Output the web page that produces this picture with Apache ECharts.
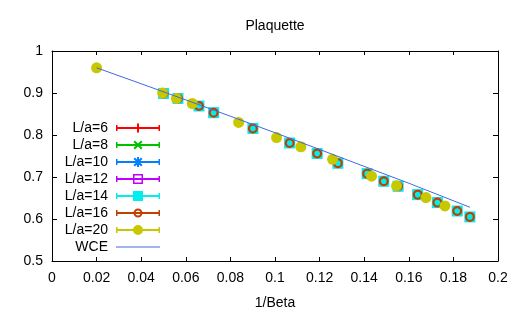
<!DOCTYPE html>
<html>
<head>
<meta charset="utf-8">
<script src="https://cdn.jsdelivr.net/npm/echarts@6/dist/echarts.min.js"></script>
<style>html,body{margin:0;padding:0;background:#fff}#c{width:525px;height:315px}</style>
</head>
<body>
<div id="c"></div>
<script>
// ---- data ----
const chartTitle = 'Plaquette';
const xName = '1/Beta';
const seriesNames = ['L/a=6', 'L/a=8', 'L/a=10', 'L/a=12', 'L/a=14', 'L/a=16', 'L/a=20', 'WCE'];
// L/a = 6 ... 16 (all overlap at the same points in the picture)
const xSmallL = [0.0500, 0.0565, 0.0659, 0.0725, 0.0901, 0.1066, 0.1189, 0.1282, 0.1413, 0.1488, 0.1552, 0.1640, 0.1728, 0.1817, 0.1874];
const ySmallL = [0.899, 0.887, 0.869, 0.853, 0.8155, 0.781, 0.756, 0.733, 0.708, 0.690, 0.678, 0.658, 0.639, 0.619, 0.605];
// L/a = 20
const xL20 = [0.0200, 0.0496, 0.0558, 0.0629, 0.0837, 0.1007, 0.1116, 0.1258, 0.1433, 0.1545, 0.1677, 0.1762];
const yL20 = [0.960, 0.900, 0.887, 0.875, 0.830, 0.794, 0.772, 0.742, 0.702, 0.679, 0.651, 0.631];
// WCE curve
const xWCE = [0.02, 0.04, 0.06, 0.08, 0.10, 0.12, 0.14, 0.16, 0.1874];
const yWCE = [0.960, 0.922, 0.8836, 0.8447, 0.8054, 0.7656, 0.7253, 0.6852, 0.628];
// axes
const xMin = 0, xMax = 0.2, xStep = 0.02;
const yMin = 0.5, yMax = 1, yStep = 0.1;

// ---- styling ----
const colors = ['#ff0000', '#00c000', '#0080ff', '#c000ff', '#00eeee', '#c04000', '#c8c800', '#4169e1'];
const FONT = '"Liberation Sans", Arial, sans-serif';

const mk = {
  plus: 'path://M4,0H6V10H4Z M0,4H10V6H0Z',
  cross: 'path://M0,1.4L1.4,0L5,3.6L8.6,0L10,1.4L6.4,5L10,8.6L8.6,10L5,6.4L1.4,10L0,8.6L3.6,5Z',
  star: 'path://M0,1.4L1.4,0L5,3.6L8.6,0L10,1.4L6.4,5L10,8.6L8.6,10L5,6.4L1.4,10L0,8.6L3.6,5Z M4,0H6V10H4Z M0,4H10V6H0Z',
  emptySquare: 'path://M0,0H10V10H0Z M1.5,1.5V8.5H8.5V1.5Z',
  square: 'path://M0,0H10V10H0Z',
  ring: 'path://M0,5A5,5 0 1,1 10,5A5,5 0 1,1 0,5Z M2.2,5A2.8,2.8 0 1,0 7.8,5A2.8,2.8 0 1,0 2.2,5Z',
  circle: 'circle'
};
const LINE = 'M0,5H44V7H0Z M0,3H1.5V9H0Z M42.5,3H44V9H42.5Z ';
const legIcons = [
  'path://' + LINE + 'M21,1.5H23V10.5H21Z',
  'path://' + LINE + 'M17.5,2.9L18.9,1.5L22,4.6L25.1,1.5L26.5,2.9L23.4,6L26.5,9.1L25.1,10.5L22,7.4L18.9,10.5L17.5,9.1L20.6,6Z',
  'path://' + LINE + 'M17.5,2.9L18.9,1.5L22,4.6L25.1,1.5L26.5,2.9L23.4,6L26.5,9.1L25.1,10.5L22,7.4L18.9,10.5L17.5,9.1L20.6,6Z M21,1H23V11H21Z',
  'path://' + LINE + 'M17,1H27V11H17Z M18.5,2.5V9.5H25.5V2.5Z',
  'path://' + LINE + 'M17,1H27V11H17Z',
  'path://' + LINE + 'M17.5,6A4.5,4.5 0 1,1 26.5,6A4.5,4.5 0 1,1 17.5,6Z M19.5,6A2.5,2.5 0 1,0 24.5,6A2.5,2.5 0 1,0 19.5,6Z',
  'path://' + LINE + 'M17,6A5,5 0 1,1 27,6A5,5 0 1,1 17,6Z',
  'path://M0,5.5H44V6.5H0Z'
];
const markers = [mk.plus, mk.cross, mk.star, mk.emptySquare, mk.square, mk.ring, mk.circle];
const markerSizes = [9, 9, 9, 10, 11, 10, 11];

const pairs = (xs, ys) => xs.map((x, i) => [x, ys[i]]);

const series = [];
for (let i = 0; i < 7; i++) {
  const isL20 = i === 6;
  series.push({
    name: seriesNames[i],
    type: 'scatter',
    xAxisIndex: 0, yAxisIndex: 0,
    data: isL20 ? pairs(xL20, yL20) : pairs(xSmallL, ySmallL),
    symbol: markers[i],
    symbolSize: markerSizes[i],
    symbolKeepAspect: true,
    itemStyle: { color: colors[i], opacity: 1 },
    emphasis: { disabled: true },
    silent: true
  });
}
series.push({
  name: seriesNames[7],
  type: 'line',
  xAxisIndex: 0, yAxisIndex: 0,
  data: pairs(xWCE, yWCE),
  showSymbol: false,
  symbol: 'none',
  lineStyle: { color: colors[7], width: 1 },
  itemStyle: { color: colors[7] },
  silent: true,
  z: 3
});

const axisCommon = {
  type: 'value',
  axisLine: { show: true, onZero: false, lineStyle: { color: '#000', width: 1 } },
  splitLine: { show: false }
};

const option = {
  animation: false,
  backgroundColor: '#fff',
  title: {
    text: chartTitle,
    left: 275,
    top: 19,
    padding: 0,
    textAlign: 'center',
    textStyle: { fontFamily: FONT, fontSize: 14, fontWeight: 'normal', color: '#000' }
  },
  grid: { left: 52, right: 27, top: 51, bottom: 54, containLabel: false },
  legend: {
    orient: 'vertical',
    align: 'right',
    right: 365,
    top: 121,
    padding: 0,
    itemWidth: 44,
    itemHeight: 12,
    itemGap: 3,
    selectedMode: false,
    textStyle: { fontFamily: FONT, fontSize: 14, color: '#000', lineHeight: 14, padding: [0, 3, 0, 0] },
    data: seriesNames.map((n, i) => ({
      name: n,
      icon: legIcons[i],
      itemStyle: { color: colors[i], borderWidth: 0, opacity: 1 }
    }))
  },
  xAxis: [
    Object.assign({}, axisCommon, {
      position: 'bottom', min: xMin, max: xMax, interval: xStep,
      name: xName, nameLocation: 'middle', nameGap: 35,
      nameTextStyle: { fontFamily: FONT, fontSize: 14, color: '#000' },
      axisTick: { show: true, inside: true, length: 4, lineStyle: { color: '#000' } },
      axisLabel: { fontFamily: FONT, fontSize: 14, color: '#000', margin: 10 }
    }),
    Object.assign({}, axisCommon, {
      position: 'top', min: xMin, max: xMax, interval: xStep,
      axisTick: { show: true, inside: true, length: 4, lineStyle: { color: '#000' } },
      axisLabel: { show: false }
    })
  ],
  yAxis: [
    Object.assign({}, axisCommon, {
      position: 'left', min: yMin, max: yMax, interval: yStep,
      axisTick: { show: true, inside: true, length: 5, lineStyle: { color: '#000' } },
      axisLabel: { fontFamily: FONT, fontSize: 14, color: '#000', margin: 9 }
    }),
    Object.assign({}, axisCommon, {
      position: 'right', min: yMin, max: yMax, interval: yStep,
      axisTick: { show: true, inside: true, length: 5, lineStyle: { color: '#000' } },
      axisLabel: { show: false }
    })
  ],
  series: series
};

const chart = echarts.init(document.getElementById('c'), null, { renderer: 'canvas' });
chart.setOption(option);
</script>
</body>
</html>
